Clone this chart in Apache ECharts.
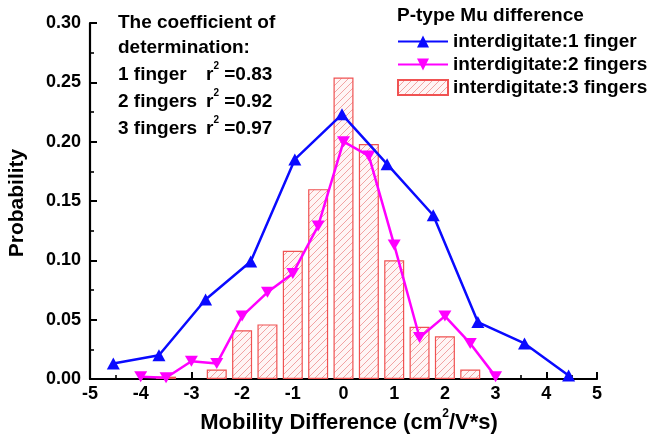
<!DOCTYPE html>
<html>
<head>
<meta charset="utf-8">
<script src="https://cdn.jsdelivr.net/npm/echarts@6/dist/echarts.min.js"></script>
<style>
  html, body { margin: 0; padding: 0; background: #fff; }
  #chart { width: 651px; height: 438px; }
</style>
</head>
<body>
<div id="chart"></div>
<script>
// Mobility difference distributions for interdigitated P-type devices
const oneFingerX = [-4.54, -3.64, -2.72, -1.83, -0.96, -0.03, 0.86, 1.77, 2.65, 3.57, 4.44];
const oneFingerY = [0.013, 0.020, 0.067, 0.099, 0.185, 0.223, 0.181, 0.138, 0.048, 0.030, 0.003];

const twoFingerX = [-4.0, -3.5, -3.0, -2.5, -2.0, -1.5, -1.0, -0.5, 0.0, 0.5, 1.0, 1.5, 2.0, 2.5, 3.0];
const twoFingerY = [0.002, 0.001, 0.015, 0.013, 0.053, 0.073, 0.089, 0.129, 0.200, 0.188, 0.113, 0.035, 0.053, 0.030, 0.002];

const threeFingerX = [-3.5, -2.5, -2.0, -1.5, -1.0, -0.5, 0.0, 0.5, 1.0, 1.5, 2.0, 2.5];
const threeFingerY = [0.002, 0.008, 0.041, 0.046, 0.108, 0.160, 0.254, 0.198, 0.100, 0.044, 0.036, 0.008];

const seriesNames = ['interdigitate:1 finger', 'interdigitate:2 fingers', 'interdigitate:3 fingers'];
const legendTitle = 'P-type Mu difference';
const fitLines = [
  ['1 finger', '0.83'],
  ['2 fingers', '0.92'],
  ['3 fingers', '0.97']
];

const FONT = '"Liberation Sans", Arial, sans-serif';

function zip(xs, ys) { return xs.map((x, i) => [x, ys[i]]); }

// diagonal hatch fill for the histogram bars
function hatchPattern() {
  const s = 7;
  const c = document.createElement('canvas');
  c.width = s; c.height = s;
  const g = c.getContext('2d');
  g.fillStyle = '#fff5f5';
  g.fillRect(0, 0, s, s);
  g.strokeStyle = '#f2a3a3';
  g.lineWidth = 1;
  g.beginPath();
  g.moveTo(0, s); g.lineTo(s, 0);
  g.moveTo(-1, 1); g.lineTo(1, -1);
  g.moveTo(s - 1, s + 1); g.lineTo(s + 1, s - 1);
  g.stroke();
  return c;
}

const chart = echarts.init(document.getElementById('chart'), null, { renderer: 'canvas' });

const axisCommon = {
  axisLine: { show: true, onZero: false, lineStyle: { color: '#000', width: 2.2 } },
  axisTick: { show: true, inside: true, length: 7, lineStyle: { color: '#000', width: 2 } },
  minorTick: { show: true, splitNumber: 2, length: 4, lineStyle: { color: '#000', width: 1.6 } },
  splitLine: { show: false },
  axisLabel: { color: '#000', fontFamily: FONT, fontWeight: 'bold', fontSize: 18 }
};

const TXT = 'bold 19px ' + FONT;
const annot = [];
const baseY = [24, 49, 76, 103, 130];
annot.push({ type: 'text', left: 118, top: baseY[0] - 11,
  style: { text: 'The coefficient of', font: TXT, fill: '#000' } });
annot.push({ type: 'text', left: 118, top: baseY[1] - 11,
  style: { text: 'determination:', font: TXT, fill: '#000' } });
fitLines.forEach((f, i) => {
  const y = baseY[i + 2];
  annot.push({ type: 'text', left: 118, top: y - 11,
    style: { text: f[0], font: TXT, fill: '#000' } });
  annot.push({ type: 'text', left: 206, top: y - 15,
    style: {
      text: '{r|r}{s|2}{r| =' + f[1] + '}',
      rich: {
        r: { font: TXT, fill: '#000', verticalAlign: 'bottom', lineHeight: 23 },
        s: { font: 'bold 10px ' + FONT, fill: '#000', verticalAlign: 'top', lineHeight: 23 }
      }
    } });
});

chart.setOption({
  animation: false,
  backgroundColor: '#fff',
  grid: { left: 90, right: 54, top: 23, bottom: 59, containLabel: false },
  xAxis: Object.assign({}, axisCommon, {
    type: 'value', min: -5, max: 5, interval: 1,
    axisLabel: Object.assign({}, axisCommon.axisLabel, { margin: 6 })
  }),
  yAxis: Object.assign({}, axisCommon, {
    type: 'value', min: 0, max: 0.3, interval: 0.05,
    axisLabel: Object.assign({}, axisCommon.axisLabel, {
      margin: 9, formatter: v => v.toFixed(2)
    })
  }),
  legend: {
    orient: 'vertical', left: 392, top: 27,
    itemWidth: 50, itemHeight: 15, itemGap: 4,
    textStyle: { color: '#000', fontFamily: FONT, fontWeight: 'bold', fontSize: 19 },
    data: [
      { name: seriesNames[0] },
      { name: seriesNames[1] },
      { name: seriesNames[2], icon: 'rect' }
    ]
  },
  graphic: [
    { type: 'text', left: 397, top: 6,
      style: { text: legendTitle, font: TXT, fill: '#000' } },
    { type: 'text', x: 17, y: 203, rotation: Math.PI / 2,
      style: { text: 'Probability', font: 'bold 21px ' + FONT, fill: '#000',
        align: 'center', verticalAlign: 'middle' } },
    { type: 'text', x: 349, y: 421,
      style: {
        text: '{t|Mobility Difference (cm}{s|2}{t|/V*s)}',
        align: 'center', verticalAlign: 'middle',
        rich: {
          t: { font: 'bold 22px ' + FONT, fill: '#000', verticalAlign: 'bottom', lineHeight: 26 },
          s: { font: 'bold 12px ' + FONT, fill: '#000', verticalAlign: 'top', lineHeight: 26 }
        }
      } }
  ].concat(annot),
  series: [
    {
      name: seriesNames[2], type: 'bar', z: 1,
      data: zip(threeFingerX, threeFingerY),
      barWidth: 20,
      itemStyle: {
        color: { image: hatchPattern(), repeat: 'repeat' },
        borderColor: '#f05252', borderWidth: 1.2
      }
    },
    {
      name: seriesNames[1], type: 'line', z: 3,
      data: zip(twoFingerX, twoFingerY),
      symbol: 'triangle', symbolSize: [13, 11], symbolRotate: 180,
      lineStyle: { color: '#ff00ff', width: 2.5 },
      itemStyle: { color: '#ff00ff' }
    },
    {
      name: seriesNames[0], type: 'line', z: 4,
      data: zip(oneFingerX, oneFingerY),
      symbol: 'triangle', symbolSize: [13, 12],
      lineStyle: { color: '#0a0aff', width: 2.5 },
      itemStyle: { color: '#0a0aff' }
    }
  ]
});
</script>
</body>
</html>
